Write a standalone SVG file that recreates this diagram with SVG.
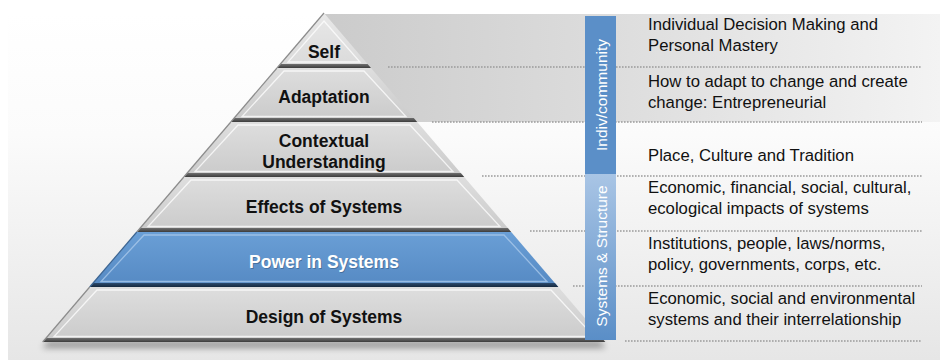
<svg xmlns="http://www.w3.org/2000/svg" width="940" height="360" viewBox="0 0 940 360">
  <defs>
    <linearGradient id="bg" x1="0" y1="0" x2="0" y2="1">
      <stop offset="0" stop-color="#ffffff"/>
      <stop offset="0.35" stop-color="#fbfbfb"/>
      <stop offset="1" stop-color="#e6e6e6"/>
    </linearGradient>
    <linearGradient id="panel" x1="0" y1="0" x2="1" y2="0">
      <stop offset="0" stop-color="#cbcbcb"/>
      <stop offset="0.45" stop-color="#dcdcdc"/>
      <stop offset="1" stop-color="#f3f3f3"/>
    </linearGradient>
    <linearGradient id="face" x1="0" y1="0" x2="0" y2="1">
      <stop offset="0" stop-color="#dedede"/>
      <stop offset="1" stop-color="#cacaca"/>
    </linearGradient>
    <linearGradient id="faceTop" x1="0" y1="0" x2="0" y2="1">
      <stop offset="0" stop-color="#e8e8e8"/>
      <stop offset="1" stop-color="#dadada"/>
    </linearGradient>
    <linearGradient id="faceBlue" x1="0" y1="0" x2="0" y2="1">
      <stop offset="0" stop-color="#6a9fd6"/>
      <stop offset="1" stop-color="#5589c3"/>
    </linearGradient>
    <linearGradient id="strip" x1="0" y1="0" x2="0" y2="1">
      <stop offset="0" stop-color="#707070"/>
      <stop offset="1" stop-color="#3c3c3c"/>
    </linearGradient>
    <linearGradient id="stripBlue" x1="0" y1="0" x2="0" y2="1">
      <stop offset="0" stop-color="#2c4a6e"/>
      <stop offset="1" stop-color="#16283d"/>
    </linearGradient>
    <linearGradient id="barSys" x1="0" y1="0" x2="0" y2="1">
      <stop offset="0" stop-color="#a9c5e5"/>
      <stop offset="1" stop-color="#5a8ec7"/>
    </linearGradient>
    <filter id="shadow" x="-10%" y="-200%" width="120%" height="500%">
      <feGaussianBlur stdDeviation="3"/>
    </filter>
    <style>
      .lbl { font-family: "Liberation Sans", Arial, sans-serif; font-weight: bold; font-size: 17.5px; fill: #111111; text-anchor: middle; }
      .lblw { font-family: "Liberation Sans", Arial, sans-serif; font-weight: bold; font-size: 17.5px; fill: #ffffff; text-anchor: middle; }
      .desc { font-family: "Liberation Sans", Arial, sans-serif; font-size: 16.7px; fill: #111111; }
      .bar { font-family: "Liberation Sans", Arial, sans-serif; font-size: 15.5px; fill: #ffffff; text-anchor: middle; }
      .dot { stroke: #9a9a9a; stroke-width: 1.6; stroke-dasharray: 1.6 1.4; fill: none; }
      .edgeL { stroke: #8c8c8c; stroke-width: 1.2; fill: none; }
      .hl { stroke: #ffffff; stroke-opacity: 0.75; stroke-width: 1.3; fill: none; }
    </style>
  </defs>

  <!-- background -->
  <rect x="0" y="0" width="940" height="360" fill="#ffffff"/>
  <rect x="8" y="14" width="932" height="346" fill="url(#bg)"/>
  <rect x="323" y="14" width="617" height="108" fill="url(#panel)"/>

  <!-- pyramid shadow -->
  <polygon points="48,341 600,341 606,348 42,348" fill="#000000" opacity="0.35" filter="url(#shadow)"/>

  <!-- connectors (dotted guide lines) -->
  <g id="connectors">
    <line class="dot" x1="388" y1="67" x2="922" y2="67"/>
    <line class="dot" x1="432" y1="122" x2="922" y2="122"/>
    <line class="dot" x1="482" y1="176" x2="922" y2="176"/>
    <line class="dot" x1="530" y1="231" x2="922" y2="231"/>
    <line class="dot" x1="573" y1="286" x2="922" y2="286"/>
    <line class="dot" x1="625" y1="341" x2="922" y2="341"/>
  </g>

  <!-- pyramid layers -->
  <g id="layer-self">
    <polygon points="324,13 371,68 277,68" fill="url(#faceTop)"/>
    <polygon points="280.4,64 367.6,64 371,68 277,68" fill="url(#strip)"/>
    <polyline class="edgeL" points="277,68 324,13"/>
    <polygon class="hl" points="324,21 360,62 288,62"/>
    <text class="lbl" x="324" y="58">Self</text>
  </g>

  <g id="layer-adaptation">
    <polygon points="277,68 371,68 417.2,122 230.8,122" fill="url(#face)"/>
    <polygon points="234.2,118 413.8,118 417.2,122 230.8,122" fill="url(#strip)"/>
    <polyline class="edgeL" points="230.8,122 277,68"/>
    <polygon class="hl" points="284,71 364,71 406,116.5 242,116.5"/>
    <text class="lbl" x="324" y="102.5">Adaptation</text>
  </g>

  <g id="layer-contextual">
    <polygon points="230.8,122 417.2,122 464.2,177 183.8,177" fill="url(#face)"/>
    <polygon points="187.2,173 460.8,173 464.2,177 183.8,177" fill="url(#strip)"/>
    <polyline class="edgeL" points="183.8,177 230.8,122"/>
    <polygon class="hl" points="238,125 410,125 453,171.5 195,171.5"/>
    <text class="lbl" x="324" y="146.7">Contextual</text>
    <text class="lbl" x="324" y="167.5">Understanding</text>
  </g>

  <g id="layer-effects">
    <polygon points="183.8,177 464.2,177 511.2,232 136.8,232" fill="url(#face)"/>
    <polygon points="140.2,228 507.8,228 511.2,232 136.8,232" fill="url(#strip)"/>
    <polyline class="edgeL" points="136.8,232 183.8,177"/>
    <polygon class="hl" points="191,180 457,180 500,226.5 148,226.5"/>
    <text class="lbl" x="324" y="213">Effects of Systems</text>
  </g>

  <g id="layer-power">
    <polygon points="136.8,232 511.2,232 558.3,287 89.7,287" fill="url(#faceBlue)"/>
    <polygon points="93.1,283 554.9,283 558.3,287 89.7,287" fill="url(#stripBlue)"/>
    <polyline points="89.7,287 136.8,232" stroke="#3d6592" stroke-width="1.2" fill="none"/>
    <polygon points="144,235 504,235 547,281.5 101,281.5" fill="none" stroke="#a9c8ea" stroke-opacity="0.8" stroke-width="1.3"/>
    <text class="lblw" x="324.8" y="268.8" style="fill:#2a4a70" opacity="0.45">Power in Systems</text>
    <text class="lblw" x="324" y="268">Power in Systems</text>
  </g>

  <g id="layer-design">
    <polygon points="89.7,287 558.3,287 605.3,342 42.7,342" fill="url(#face)"/>
    <polygon points="46.1,338 601.9,338 605.3,342 42.7,342" fill="url(#strip)"/>
    <polyline class="edgeL" points="42.7,342 89.7,287"/>
    <polygon class="hl" points="97,290 551,290 594,336.5 54,336.5"/>
    <text class="lbl" x="324" y="323">Design of Systems</text>
  </g>

  <!-- side category bars -->
  <g id="bar-indiv">
    <rect x="585" y="16" width="31" height="158" fill="#5b8fc8"/>
    <text class="bar" transform="translate(606.5,95) rotate(-90)">Indiv/community</text>
  </g>
  <g id="bar-systems">
    <rect x="585" y="174" width="31" height="166" fill="url(#barSys)"/>
    <text class="bar" transform="translate(606.5,256) rotate(-90)">Systems &amp; Structure</text>
  </g>

  <!-- descriptions -->
  <g id="desc-self">
    <text class="desc" x="648" y="30">Individual Decision Making and</text>
    <text class="desc" x="648" y="51">Personal Mastery</text>
  </g>
  <g id="desc-adaptation">
    <text class="desc" x="648" y="87">How to adapt to change and create</text>
    <text class="desc" x="648" y="108">change: Entrepreneurial</text>
  </g>
  <g id="desc-contextual">
    <text class="desc" x="648" y="160.5">Place, Culture and Tradition</text>
  </g>
  <g id="desc-effects">
    <text class="desc" x="648" y="192.5">Economic, financial, social, cultural,</text>
    <text class="desc" x="648" y="213.5">ecological impacts of systems</text>
  </g>
  <g id="desc-power">
    <text class="desc" x="648" y="248.5">Institutions, people, laws/norms,</text>
    <text class="desc" x="648" y="270">policy, governments, corps, etc.</text>
  </g>
  <g id="desc-design">
    <text class="desc" x="648" y="303.5">Economic, social and environmental</text>
    <text class="desc" x="648" y="325">systems and their interrelationship</text>
  </g>
</svg>
